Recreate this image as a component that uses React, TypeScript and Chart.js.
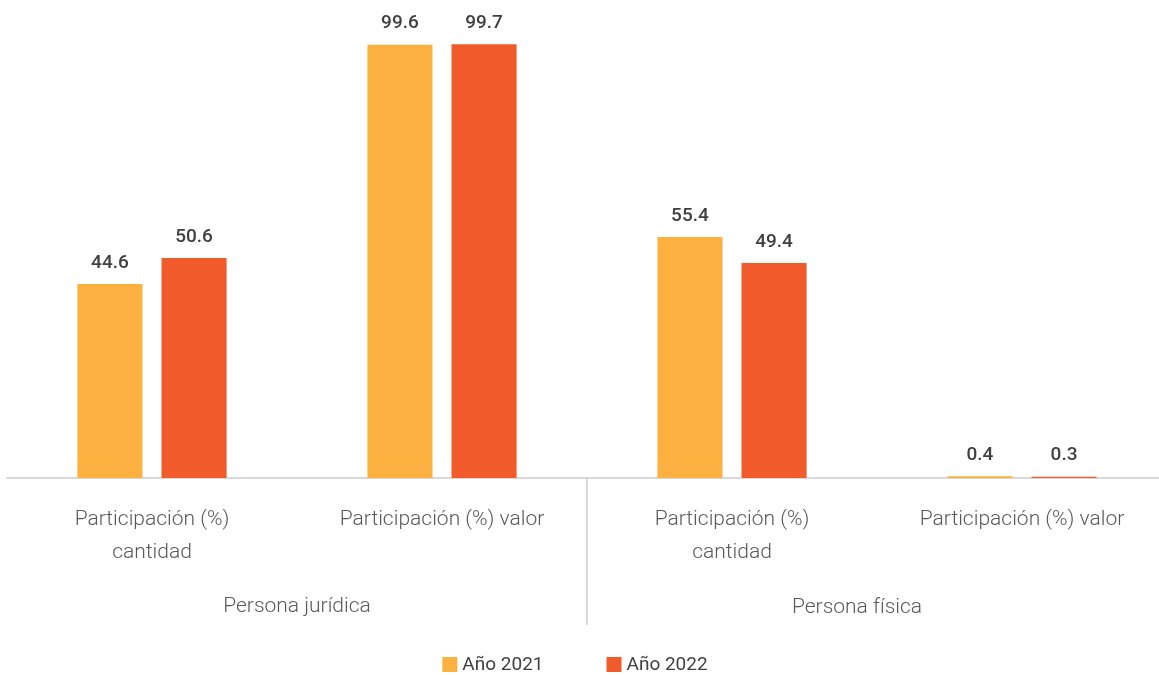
import React, { useEffect, useRef } from "react";
import { Chart, registerables } from "chart.js";

Chart.register(...registerables);

const categories: (string | string[])[] = [
  ["Participación (%)", "cantidad"],
  "Participación (%) valor",
  ["Participación (%)", "cantidad"],
  "Participación (%) valor",
];
const groups = ["Persona jurídica", "Persona física"];
const seriesNames = ["Año 2021", "Año 2022"];
const values2021 = [44.6, 99.6, 55.4, 0.4];
const values2022 = [50.6, 99.7, 49.4, 0.3];
const seriesColors = ["#FBB040", "#F15A2B"];

const FONT = "Roboto, 'Noto Sans', sans-serif";

const labelsPlugin = {
  id: "customLabels",
  afterDatasetsDraw(chart: any) {
    const ctx = chart.ctx;
    ctx.save();
    ctx.font = `500 19px ${FONT}`;
    ctx.fillStyle = "#404040";
    ctx.textAlign = "center";
    ctx.textBaseline = "middle";
    chart.data.datasets.forEach((ds: any, di: number) => {
      const meta = chart.getDatasetMeta(di);
      meta.data.forEach((el: any, i: number) => {
        ctx.fillText(Number(ds.data[i]).toFixed(1), el.x, el.y - 21);
      });
    });
    ctx.restore();
  },
  afterDraw(chart: any) {
    const ctx = chart.ctx;
    const xs = chart.scales.x;
    const bottom = chart.chartArea.bottom;
    const p = [0, 1, 2, 3].map((i) => xs.getPixelForValue(i));
    ctx.save();
    // divider
    const divX = (p[1] + p[2]) / 2;
    ctx.strokeStyle = "#d9d9d9";
    ctx.lineWidth = 2;
    ctx.beginPath();
    ctx.moveTo(divX, bottom);
    ctx.lineTo(divX, bottom + 147);
    ctx.stroke();
    // group labels
    ctx.font = `300 21px ${FONT}`;
    ctx.fillStyle = "#595959";
    ctx.textAlign = "center";
    ctx.textBaseline = "middle";
    ctx.fillText(groups[0], (p[0] + p[1]) / 2, bottom + 129);
    ctx.fillText(groups[1], (p[2] + p[3]) / 2 - 20, bottom + 130);
    // legend
    ctx.font = `400 19px ${FONT}`;
    const box = 15;
    const gapText = 5;
    const gapItem = 63;
    const widths = seriesNames.map((n) => box + gapText + ctx.measureText(n).width);
    const total = widths.reduce((a, b) => a + b, 0) + gapItem * (widths.length - 1);
    let x = 575 - total / 2;
    const ly = 665;
    ctx.textAlign = "left";
    seriesNames.forEach((n, i) => {
      ctx.fillStyle = seriesColors[i];
      ctx.fillRect(x, ly - 8, box, box);
      ctx.fillStyle = "#404040";
      ctx.fillText(n, x + box + gapText, ly);
      x += widths[i] + gapItem;
    });
    ctx.restore();
  },
};

export default function App() {
  const ref = useRef<HTMLCanvasElement | null>(null);
  useEffect(() => {
    if (!ref.current) return;
    const chart = new Chart(ref.current, {
      type: "bar",
      data: {
        labels: categories as any,
        datasets: [
          {
            label: seriesNames[0],
            data: values2021,
            backgroundColor: seriesColors[0],
            categoryPercentage: 0.58,
            barPercentage: 0.774,
          },
          {
            label: seriesNames[1],
            data: values2022,
            backgroundColor: seriesColors[1],
            categoryPercentage: 0.58,
            barPercentage: 0.774,
          },
        ],
      },
      options: {
        animation: false,
        responsive: true,
        maintainAspectRatio: false,
        layout: { padding: { top: 43, left: 7, right: 0, bottom: 0 } },
        plugins: {
          legend: { display: false },
          tooltip: { enabled: false },
        },
        scales: {
          y: {
            display: false,
            min: 0,
            max: 100,
          },
          x: {
            grid: { display: false, drawTicks: false },
            border: { display: true, color: "#d9d9d9", width: 2 },
            ticks: {
              padding: 25,
              color: "#595959",
              maxRotation: 0,
              autoSkip: false,
              font: { family: FONT, size: 21, weight: "300" as any, lineHeight: 1.57 },
            },
            afterFit(scale: any) {
              scale.height = 197;
            },
          },
        },
      },
      plugins: [labelsPlugin],
    });
    return () => chart.destroy();
  }, []);
  return (
    <div style={{ position: "absolute", left: 0, top: 0, width: 1159, height: 675, overflow: "hidden", background: "#fff" }}>
      <div style={{ position: "relative", width: 1167, height: 675 }}>
        <canvas ref={ref} />
      </div>
    </div>
  );
}
